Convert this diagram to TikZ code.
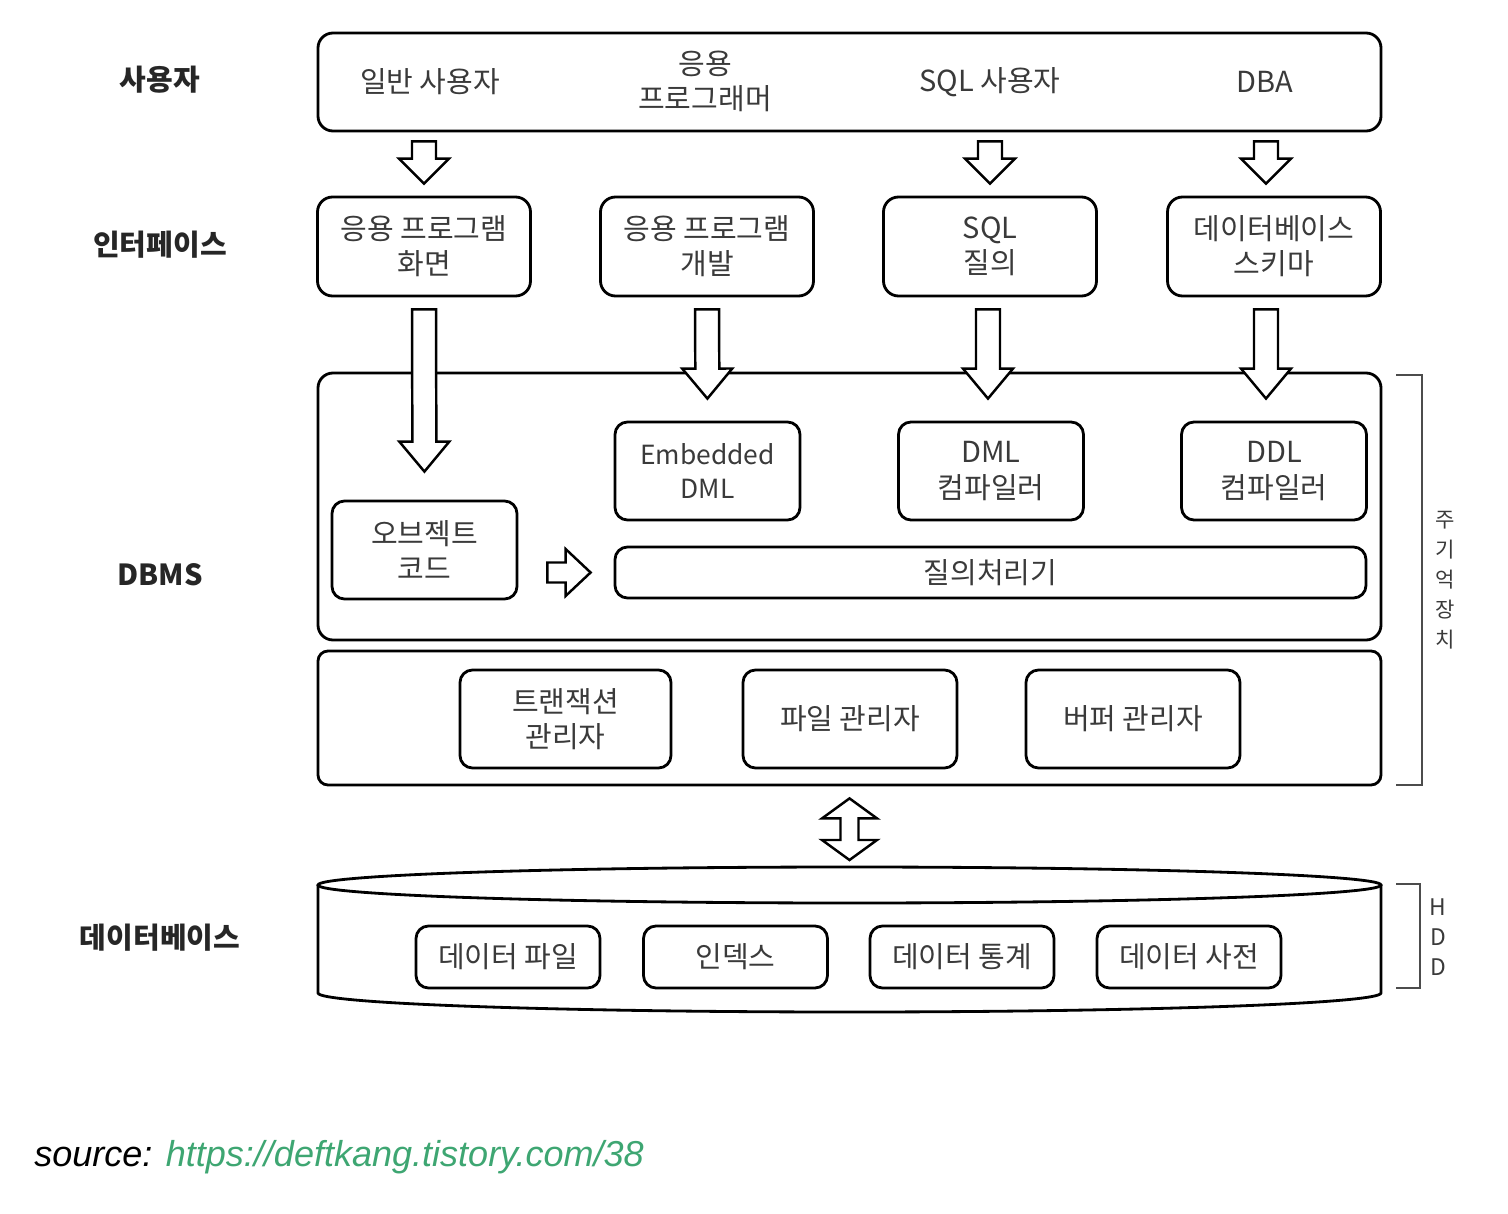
\documentclass[tikz,border=0pt]{standalone}
\usepackage{fontspec}
\setmainfont{Noto Sans CJK KR}
\newfontfamily\srcfont{Liberation Sans}
\usepackage{tikz}
\usetikzlibrary{calc,positioning}
\definecolor{linkgreen}{RGB}{62,166,114}
\definecolor{txtgray}{RGB}{58,58,58}

\begin{document}
\begin{tikzpicture}[
		box/.style={draw, rounded corners=0.3cm, line width=1.6pt, fill=white, align=center, text=txtgray, font=\fontsize{16.5}{20}\selectfont},
		small/.style={box, rounded corners=0.25cm, minimum width=3.7cm, minimum height=1.96cm},
		iface/.style={box, minimum width=4.26cm, minimum height=1.98cm},
		label/.style={font=\fontsize{16.5}{20}\selectfont\bfseries, text=black!85},
		txt/.style={align=center, text=txtgray, font=\fontsize{16.5}{20}\selectfont},
		side/.style={align=center, text=txtgray, font=\fontsize{12}{17}\selectfont},
		bracket/.style={line width=0.9pt, draw=black!70},
		hshaft/.store in=\shw, hheadw/.store in=\hdw, hheadl/.store in=\hdl,
		sgap/.store in=\agapS, egap/.store in=\agapE,
		hshaft=0.24cm, hheadw=0.5cm, hheadl=0.5cm, sgap=0.2cm, egap=0.2cm,
		hollow/.style={draw, line width=1.4pt, fill=white, to path={
			let \p1=($(\tikztostart)!\agapS!(\tikztotarget)$), \p2=($(\tikztotarget)!\agapE!(\tikztostart)$) in
			($(\p1)!\shw!90:(\p2)$) -- ($(\p2)!\hdl!(\p1)!\shw!-90:(\p1)$) -- ($(\p2)!\hdl!(\p1)!\hdw!-90:(\p1)$)
			-- (\p2) -- ($(\p2)!\hdl!(\p1)!\hdw!90:(\p1)$) -- ($(\p2)!\hdl!(\p1)!\shw!90:(\p1)$)
			-- ($(\p1)!\shw!-90:(\p2)$) -- cycle}},
		hollowboth/.style={draw, line width=1.4pt, fill=white, to path={
			let \p1=($(\tikztostart)!\agapS!(\tikztotarget)$), \p2=($(\tikztotarget)!\agapE!(\tikztostart)$) in
			(\p1) -- ($(\p1)!\hdl!(\p2)!\hdw!90:(\p2)$) -- ($(\p1)!\hdl!(\p2)!\shw!90:(\p2)$)
			-- ($(\p2)!\hdl!(\p1)!\shw!-90:(\p1)$) -- ($(\p2)!\hdl!(\p1)!\hdw!-90:(\p1)$) -- (\p2)
			-- ($(\p2)!\hdl!(\p1)!\hdw!90:(\p1)$) -- ($(\p2)!\hdl!(\p1)!\shw!90:(\p1)$)
			-- ($(\p1)!\hdl!(\p2)!\shw!-90:(\p2)$) -- ($(\p1)!\hdl!(\p2)!\hdw!-90:(\p2)$) -- cycle}}
		]
	\useasboundingbox (0,0) rectangle (30.16,-24.28);

	% users
	\node[box, minimum width=21.26cm, minimum height=1.96cm] (usr) at (16.99,-1.64) {};
	\node[txt] (u1) at (8.6,-1.64) {일반 사용자};
	\node[txt] (u2) at (14.1,-1.62) {응용\\프로그래머};
	\node[txt] (u3) at (19.8,-1.64) {SQL 사용자};
	\node[txt] (u4) at (25.3,-1.64) {DBA};

	% interfaces
	\node[iface] (if1) at (8.48,-4.93) {응용 프로그램\\화면};
	\node[iface] (if2) at (14.14,-4.93) {응용 프로그램\\개발};
	\node[iface] (if3) at (19.8,-4.93) {SQL\\질의};
	\node[iface] (if4) at (25.48,-4.93) {데이터베이스\\스키마};

	% dbms
	\node[box, minimum width=21.26cm, minimum height=5.34cm] (dbms) at (16.99,-10.13) {};
	\node[small, font=\fontsize{15}{19}\selectfont] (emb) at (14.15,-9.42) {Embedded\\DML};
	\node[small] (dml) at (19.82,-9.42) {DML\\컴파일러};
	\node[small] (ddl) at (25.48,-9.42) {DDL\\컴파일러};
	\node[small] (obj) at (8.49,-11.0) {오브젝트\\코드};
	\node[box, rounded corners=0.25cm, minimum width=15.02cm, minimum height=1.02cm] (qp) at (19.81,-11.45) {질의처리기};

	\node[box, rounded corners=0.2cm, minimum width=21.26cm, minimum height=2.68cm] (mgr) at (16.99,-14.36) {};
	\node[small, minimum width=4.22cm] (tm) at (11.31,-14.38) {트랜잭션\\관리자};
	\node[small, minimum width=4.28cm] (fm) at (17.0,-14.38) {파일 관리자};
	\node[small, minimum width=4.28cm] (bm) at (22.66,-14.38) {버퍼 관리자};

	% database
	\draw[line width=1.6pt, fill=white] (6.36,-17.7) -- (6.36,-19.86) arc[start angle=180, end angle=360, x radius=10.63cm, y radius=0.38cm] -- (27.62,-17.7);
	\draw[line width=1.6pt, fill=white] (16.99,-17.7) ellipse [x radius=10.63cm, y radius=0.36cm];
	\coordinate (dbtop) at (16.99,-17.34);
	\node[small, minimum width=3.68cm, minimum height=1.24cm] (df) at (10.16,-19.14) {데이터 파일};
	\node[small, minimum width=3.68cm, minimum height=1.24cm] (idx) at (14.71,-19.14) {인덱스};
	\node[small, minimum width=3.68cm, minimum height=1.24cm] (dst) at (19.24,-19.14) {데이터 통계};
	\node[small, minimum width=3.68cm, minimum height=1.24cm] (dic) at (23.78,-19.14) {데이터 사전};

	% left labels
	\node[label] (lu) at (3.2,-1.6) {사용자};
	\node[label] (li) at (3.2,-4.9) {인터페이스};
	\node[label] (ld) at (3.2,-11.5) {DBMS};
	\node[label] (lb) at (3.2,-18.76) {데이터베이스};

	% arrows
	\draw[hollow, sgap=0.18cm, egap=0.24cm] (usr.south -| if1.north) to (if1.north);
	\draw[hollow, sgap=0.18cm, egap=0.24cm] (usr.south -| if3.north) to (if3.north);
	\draw[hollow, sgap=0.18cm, egap=0.24cm] ([xshift=-0.16cm]usr.south -| if4.north) to ([xshift=-0.16cm]if4.north);
	\draw[hollow, sgap=0.24cm, egap=0.56cm, hheadl=0.6cm] (if1.south) to (obj.north);
	\draw[hollow, sgap=0.24cm, egap=0.44cm, hheadl=0.6cm] (if2.south) to (emb.north);
	\draw[hollow, sgap=0.24cm, egap=0.44cm, hheadl=0.6cm] ([xshift=-0.04cm]if3.south) to ([xshift=-0.04cm]if3.south |- dml.north);
	\draw[hollow, sgap=0.24cm, egap=0.44cm, hheadl=0.6cm] ([xshift=-0.16cm]if4.south) to ([xshift=-0.16cm]if4.south |- ddl.north);
	\draw[hollow, sgap=0.58cm, egap=0.46cm, hshaft=0.2cm, hheadw=0.47cm, hheadl=0.5cm] (obj.east |- qp.west) to (qp.west);
	\draw[hollowboth, sgap=0.24cm, egap=0.14cm, hshaft=0.18cm, hheadw=0.55cm, hheadl=0.4cm] (mgr.south) to (dbtop);

	% storage brackets
	\draw[bracket] (27.92,-7.5) -- (28.44,-7.5) |- (27.92,-15.7);
	\node[side] (mem) at (28.9,-11.6) {주\\기\\억\\장\\치};
	\draw[bracket] (27.92,-17.68) -- (28.4,-17.68) |- (27.92,-19.76);
	\node[side, font=\fontsize{13}{17}\selectfont] (hdd) at (28.76,-18.74) {H\\D\\D};

	\node[anchor=west, inner sep=0, font=\srcfont\itshape\fontsize{20.5}{24}\selectfont] (src) at (0.68,-23.14) {source: \textcolor{linkgreen}{https://deftkang.tistory.com/38}};

\end{tikzpicture}
\end{document}
